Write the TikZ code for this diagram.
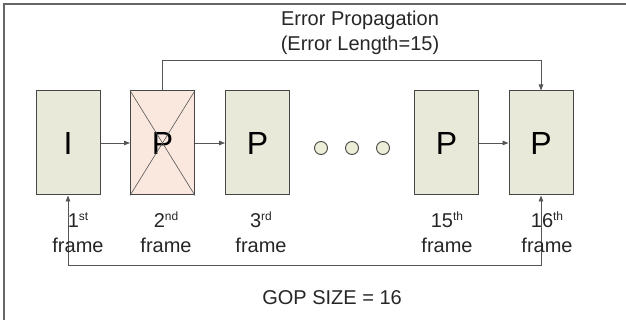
\documentclass[tikz,border=0pt]{standalone}
\usepackage{fontspec}
\setmainfont{Liberation Sans}
\usetikzlibrary{arrows.meta}
\definecolor{boxfill}{RGB}{233,233,218}
\definecolor{pinkfill}{RGB}{250,232,222}
\definecolor{dotfill}{RGB}{236,238,216}
\definecolor{edge}{RGB}{70,70,70}
\definecolor{wire}{RGB}{85,85,85}
\newcommand{\supx}[1]{\raisebox{6.5pt}{\fontsize{12}{12}\selectfont #1}}
\begin{document}
\begin{tikzpicture}[x=1pt,y=-1pt,
  framebox/.style={draw=edge,line width=1pt,fill=boxfill,minimum width=64pt,minimum height=104pt,inner sep=0pt,font=\fontsize{32}{32}\selectfont},
  dotnode/.style={circle,draw=edge,line width=0.9pt,fill=dotfill,minimum size=13pt,inner sep=0pt},
  lbl/.style={anchor=base,inner sep=0pt,font=\fontsize{20}{24}\selectfont,text=black!85},
  arr/.style={draw=wire,line width=0.8pt,-{Triangle[length=6pt,width=4.5pt]}},
  wireln/.style={draw=wire,line width=0.8pt}]
\useasboundingbox (0,0) rectangle (626,320);
% outer border (top and left visible)
\draw[gray!80!black,line width=1.6pt] (4,320) -- (4,4) -- (626,4);
% frames
\node[framebox] (i) at (68,143) {I};
\node[framebox,fill=pinkfill] (p2) at (162.5,143) {P};
\node[framebox] (p3) at (257.5,143) {P};
\node[framebox] (p15) at (446.5,143) {P};
\node[framebox] (p16) at (541,143) {P};
\draw[wire,line width=0.6pt] (p2.north west) -- (p2.south east);
\draw[wire,line width=0.6pt] (p2.north east) -- (p2.south west);
% dots
\node[dotnode] (c1) at (321,148) {};
\node[dotnode] (c2) at (352,148) {};
\node[dotnode] (c3) at (383,148) {};
% arrows between frames
\draw[arr] (i.east) -- (p2.west);
\draw[arr] (p2.east) -- (p3.west);
\draw[arr] (p15.east) -- (p16.west);
% error propagation
\draw[arr] (p2.north) -- (p2.north |- 0,60) -| (p16.north);
\node[lbl] (et1) at (360,26) {Error Propagation};
\node[lbl] (et2) at (360,50.5) {(Error Length=15)};
% GOP size
\draw[wireln,{Triangle[length=6pt,width=4.5pt]}-{Triangle[length=6pt,width=4.5pt]}] (i.south) -- (i.south |- 0,265) -| (p16.south);
\node[lbl] (gop) at (332,304) {GOP SIZE = 16};
% labels
\node[lbl] (l1a) at (78,227.5) {1\supx{st}};
\node[lbl] (l1b) at (78,252.5) {frame};
\node[lbl] (l2a) at (166,227.5) {2\supx{nd}};
\node[lbl] (l2b) at (166,252.5) {frame};
\node[lbl] (l3a) at (261,227.5) {3\supx{rd}};
\node[lbl] (l3b) at (261,252.5) {frame};
\node[lbl] (l15a) at (447,227.5) {15\supx{th}};
\node[lbl] (l15b) at (447,252.5) {frame};
\node[lbl] (l16a) at (547,227.5) {16\supx{th}};
\node[lbl] (l16b) at (547,252.5) {frame};
\end{tikzpicture}
\end{document}
